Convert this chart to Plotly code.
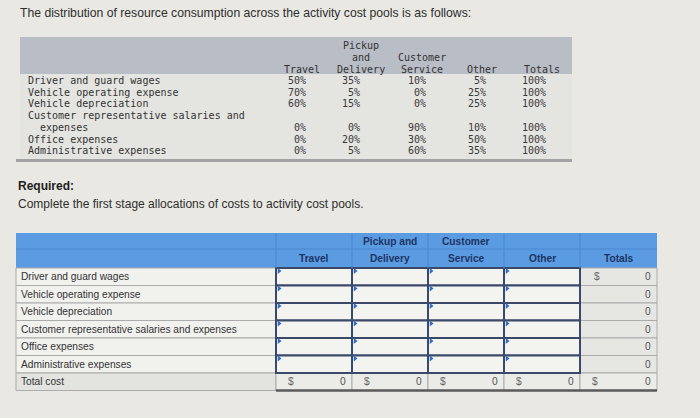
import textwrap
import plotly.graph_objects as go

# ---------------- data ----------------
COST_ITEMS = [
    "Driver and guard wages",
    "Vehicle operating expense",
    "Vehicle depreciation",
    "Customer representative salaries and expenses",
    "Office expenses",
    "Administrative expenses",
]
POOLS = ["Travel", "Pickup and Delivery", "Customer Service", "Other", "Totals"]
TRAVEL_PCT = [50, 70, 60, 0, 0, 0]
PICKUP_PCT = [35, 5, 15, 0, 20, 5]
CUSTOMER_PCT = [10, 0, 0, 90, 30, 60]
OTHER_PCT = [5, 25, 25, 10, 50, 35]
TOTALS_PCT = [100, 100, 100, 100, 100, 100]
ROW_TOTALS = [0, 0, 0, 0, 0, 0]          # Totals column of the answer grid
POOL_TOTAL_COST = [0, 0, 0, 0, 0]        # "Total cost" row of the answer grid
TOTAL_LABEL = "Total cost"

TITLE = "The distribution of resource consumption across the activity cost pools is as follows:"
REQ_HEAD = "Required:"
REQ_TEXT = "Complete the first stage allocations of costs to activity cost pools."

# ---------------- layout / style ----------------
W, H = 700, 418
PAGE_BG = "#e9e8e3"
TEXT = "#2e2e2e"
MONO = "DejaVu Sans Mono"
SANS = "Liberation Sans"

# table 1 (plain monospace listing)
T1_LEFT, T1_RIGHT = 20, 572
T1_HEAD_TOP, T1_HEAD_BOTTOM = 37, 74
T1_BODY_BOTTOM = 159
T1_LINE = 11.7
T1_HEAD_LAST = 69
T1_FIRST_ROW = 80.5
T1_LABEL_X = 26
T1_VAL_RIGHT = [308, 362, 428, 488, 548]
T1_HEAD_CENTER = [302, 361, 422, 482, 542]
T1_FONT = 10

# table 2 (answer grid)
T2_LEFT = 16
T2_COL_W = [260, 76, 76, 76, 76, 77]
T2_TOP = 233
T2_HEAD_H = [16, 19]
T2_ROW_H = 17.5
T2_FONT = 10.2
HEAD_BLUE = "#5b9be2"
HEAD_LINE = "#4a86cf"
HEAD_TEXT = "#1d3564"
INPUT_BORDER = "#3b4968"
GRID_GRAY = "#ababab"

fig = go.Figure()
shapes, annots = [], []


def rect(x0, y0, x1, y1, fill, line_color=None, width=0, layer="below"):
    shapes.append(dict(type="rect", xref="x", yref="y", x0=x0, y0=y0, x1=x1, y1=y1,
                       fillcolor=fill, layer=layer,
                       line=dict(color=line_color or fill, width=width)))


def line(x0, y0, x1, y1, color, width):
    shapes.append(dict(type="line", xref="x", yref="y", x0=x0, y0=y0, x1=x1, y1=y1,
                       line=dict(color=color, width=width)))


def text(x, y, s, anchor="left", size=10, family=SANS, color=TEXT, bold=False):
    annots.append(dict(x=x, y=y, xref="x", yref="y", text=(f"<b>{s}</b>" if bold else s),
                       showarrow=False, xanchor=anchor, yanchor="middle",
                       font=dict(family=family, size=size, color=color)))


# ---------------- intro text ----------------
text(18, 13, TITLE, size=12.2)

# ---------------- table 1 ----------------
rect(T1_LEFT, T1_HEAD_TOP, T1_RIGHT, T1_HEAD_BOTTOM, "#b9bdc6")
rect(T1_LEFT, T1_HEAD_BOTTOM, T1_RIGHT, T1_BODY_BOTTOM, "#e4e4e0")
line(T1_LEFT - 4, T1_BODY_BOTTOM + 1.5, T1_RIGHT, T1_BODY_BOTTOM + 1.5, "#a3a3a3", 3)

for j, pool in enumerate(POOLS):
    lines = textwrap.wrap(pool, 8)
    n = len(lines)
    for i, ln in enumerate(lines):
        text(T1_HEAD_CENTER[j], T1_HEAD_LAST - (n - 1 - i) * T1_LINE, ln,
             anchor="center", size=T1_FONT, family=MONO, color="#333333")

pct_cols = [TRAVEL_PCT, PICKUP_PCT, CUSTOMER_PCT, OTHER_PCT, TOTALS_PCT]
k = 0
for r, item in enumerate(COST_ITEMS):
    lines = textwrap.wrap(item, 36)
    for i, ln in enumerate(lines):
        lbl = ln if i == 0 else "\u00a0\u00a0" + ln
        text(T1_LABEL_X, T1_FIRST_ROW + (k + i) * T1_LINE, lbl, size=T1_FONT, family=MONO,
             color="#333333")
    yv = T1_FIRST_ROW + (k + len(lines) - 1) * T1_LINE
    for j, col in enumerate(pct_cols):
        text(T1_VAL_RIGHT[j], yv, f"{col[r]}%", anchor="right", size=T1_FONT, family=MONO,
             color="#3a3a3a")
    k += len(lines)

# ---------------- required text ----------------
text(16, 186, REQ_HEAD, size=12, color="#1e1e1e", bold=True)
text(16, 204, REQ_TEXT, size=12)

# ---------------- table 2 ----------------
edges = [T2_LEFT]
for w in T2_COL_W:
    edges.append(edges[-1] + w)
head_mid = T2_TOP + T2_HEAD_H[0]
head_bot = head_mid + T2_HEAD_H[1]
n_rows = len(COST_ITEMS) + 1
row_top = [head_bot + i * T2_ROW_H for i in range(n_rows)]

# header band
rect(edges[0], T2_TOP, edges[-1], head_bot, HEAD_BLUE)
line(edges[0], head_mid, edges[-1], head_mid, HEAD_LINE, 1)
for e in edges[1:-1]:
    line(e, T2_TOP, e, head_bot, HEAD_LINE, 1)
for j, pool in enumerate(POOLS):
    lines = textwrap.wrap(pool, 10)
    if len(lines) == 1:
        lines = [""] + lines
    cx = (edges[j + 1] + edges[j + 2]) / 2
    for i, ln in enumerate(lines):
        if ln:
            yc = (T2_TOP + head_mid) / 2 if i == 0 else (head_mid + head_bot) / 2
            text(cx, yc, ln, anchor="center", size=T2_FONT, color=HEAD_TEXT, bold=True)

labels = COST_ITEMS + [TOTAL_LABEL]
tri_x, tri_y = [], []
for r in range(n_rows):
    y0, y1 = row_top[r], row_top[r] + T2_ROW_H
    ym = (y0 + y1) / 2
    is_total = r == n_rows - 1
    rect(edges[0], y0, edges[1], y1, "#e3e3e0" if is_total else "#f1f1ee", GRID_GRAY, 1)
    text(edges[0] + 3, ym, labels[r], size=T2_FONT, color="#333333")
    for c in range(1, 6):
        x0, x1 = edges[c], edges[c + 1]
        if is_total:
            rect(x0, y0, x1, y1, "#ebebe8", GRID_GRAY, 1)
            text(x0 + 10, ym, "$", size=T2_FONT, color="#666666")
            text(x1 - 4, ym, str(POOL_TOTAL_COST[c - 1]), anchor="right", size=T2_FONT,
                 color="#555555")
        elif c == 5:
            rect(x0, y0, x1, y1, "#e6e6e3", GRID_GRAY, 1)
            if r == 0:
                text(x0 + 12, ym, "$", size=T2_FONT, color="#666666")
            text(x1 - 4, ym, str(ROW_TOTALS[r]), anchor="right", size=T2_FONT, color="#555555")
# input cells drawn last so their dark borders sit on top
for r in range(n_rows - 1):
    y0, y1 = row_top[r], row_top[r] + T2_ROW_H
    for c in range(1, 5):
        rect(edges[c], y0, edges[c + 1], y1, "#f3f3f0", INPUT_BORDER, 2)
        tri_x.append(edges[c] + 3)
        tri_y.append(y0 + 3)
line(edges[1], row_top[-1] + T2_ROW_H, edges[-1], row_top[-1] + T2_ROW_H, "#5a5a5a", 2.5)

fig.add_trace(go.Scatter(x=tri_x, y=tri_y, mode="markers", hoverinfo="skip", showlegend=False,
                         marker=dict(symbol="triangle-right", size=5, color="#2f6cc9")))

fig.update_layout(
    width=W, height=H, margin=dict(l=0, r=0, t=0, b=0),
    paper_bgcolor=PAGE_BG, plot_bgcolor=PAGE_BG,
    shapes=shapes, annotations=annots, showlegend=False,
    xaxis=dict(range=[0, W], visible=False, fixedrange=True),
    yaxis=dict(range=[H, 0], visible=False, fixedrange=True),
)
fig.write_html(
    "out.html",
    config={"displayModeBar": False},
    post_script="document.body.style.margin='0';document.body.style.background='" + PAGE_BG + "';",
)
